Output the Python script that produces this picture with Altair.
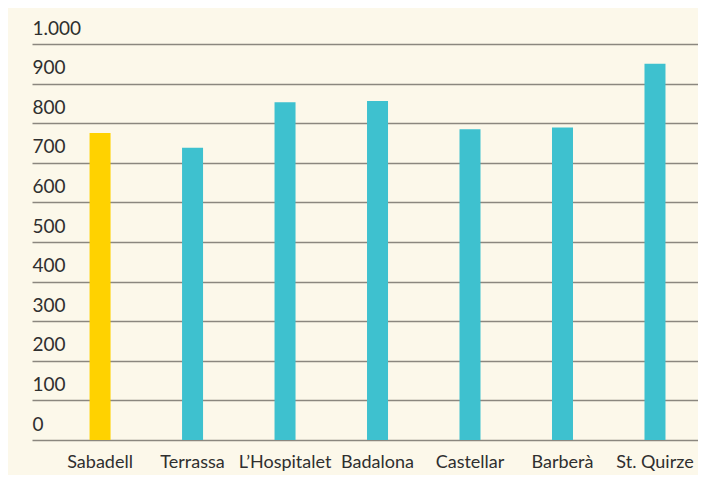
import altair as alt
import pandas as pd

cities = ["Sabadell", "Terrassa", "L\u2019Hospitalet", "Badalona", "Castellar", "Barberà", "St. Quirze"]
values = [775, 738, 853, 856, 785, 789, 950]
y_ticks = [0, 100, 200, 300, 400, 500, 600, 700, 800, 900, 1000]

df = pd.DataFrame({"city": cities, "value": values})

FONT = "Lato"
TEXT = "#2f2f2f"

chart = alt.Chart(df).mark_bar(size=21).encode(
    x=alt.X("city:N", sort=cities, title=None,
            scale=alt.Scale(paddingInner=0.773, paddingOuter=0.487, align=0.639),
            axis=alt.Axis(labelAngle=0, domain=False, ticks=False, tickSize=0,
                          labelPadding=27, labelBaseline="alphabetic",
                          labelFont=FONT, labelFontSize=18, labelColor=TEXT)),
    y=alt.Y("value:Q", title=None,
            scale=alt.Scale(domain=[0, 1000], nice=False),
            axis=alt.Axis(values=y_ticks, domain=False, ticks=False, tickSize=0,
                          labelAlign="left", labelPadding=0, labelBaseline="alphabetic",
                          labelOffset=-10, labelOverlap=False,
                          labelExpr="replace(format(datum.value, ','), ',', '.')",
                          labelFont=FONT, labelFontSize=19, labelColor=TEXT,
                          grid=True, gridColor="#8b877f", gridWidth=1.6)),
    color=alt.condition(alt.datum.city == "Sabadell", alt.value("#FFD200"), alt.value("#3EC1CF")),
).properties(
    width=666, height=396,
    autosize=alt.AutoSizeParams(type="none"),
    padding={"left": 24, "top": 36, "right": 0, "bottom": 35},
    background="#FCF8EA",
).configure_view(stroke=None)

chart.save("out.html", embed_options={"renderer": "svg", "actions": False})
